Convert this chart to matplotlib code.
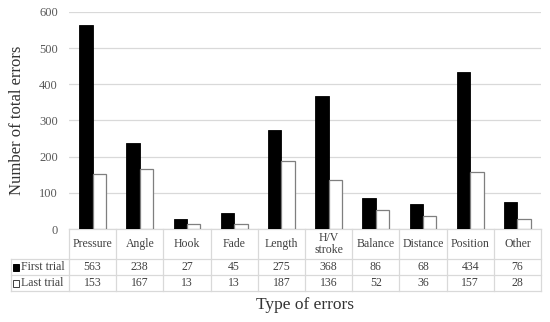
import matplotlib.pyplot as plt
from matplotlib.transforms import blended_transform_factory
from matplotlib.patches import Rectangle
import numpy as np

categories = ['Pressure', 'Angle', 'Hook', 'Fade', 'Length', 'H/V\nstroke',
              'Balance', 'Distance', 'Position', 'Other']
first_trial = [563, 238, 27, 45, 275, 368, 86, 68, 434, 76]
last_trial = [153, 167, 13, 13, 187, 136, 52, 36, 157, 28]
series_names = ['First trial', 'Last trial']

W, H = 550, 322
grid_col = '#d9d9d9'
txt_col = '#404040'
fs = 8.5
plt.rcParams['font.family'] = ['Liberation Serif', 'DejaVu Serif']

fig = plt.figure(figsize=(W / 100, H / 100), dpi=100)
ax = fig.add_axes([69 / W, 1 - 229 / H, (541 - 69) / W, (229 - 12) / H])

x = np.arange(len(categories))
bw = 0.285
ax.bar(x - bw / 2, first_trial, bw, color='black', edgecolor='black', linewidth=0.6, zorder=3)
ax.bar(x + bw / 2, last_trial, bw, color='white', edgecolor='#7f7f7f', linewidth=0.9, zorder=3)

ax.set_xlim(-0.5, len(categories) - 0.5)
ax.set_ylim(0, 600)
ax.set_yticks(range(0, 601, 100))
ax.set_xticks([])
ax.tick_params(axis='y', length=0, labelsize=9, pad=8, labelcolor='#595959')
ax.grid(axis='y', color=grid_col, linewidth=0.9, zorder=0)
for s in ax.spines.values():
    s.set_visible(False)
ax.set_ylabel('Number of total errors', fontsize=12, labelpad=10, color='#333333')

# data table below the plot
tr = blended_transform_factory(ax.transData, fig.transFigure)
fy = lambda py: 1 - py / H
rows_px = [229, 259, 275, 291]
for i in range(len(categories) + 1):
    ax.plot([i - 0.5, i - 0.5], [fy(229), fy(291)], transform=tr, color=grid_col,
            lw=0.9, clip_on=False)
left = ax.transData.inverted().transform((11, 0))[0]
right = len(categories) - 0.5
ax.plot([-0.5, right], [fy(229)] * 2, transform=tr, color=grid_col, lw=0.9, clip_on=False)
for py in rows_px[1:]:
    ax.plot([left, right], [fy(py)] * 2, transform=tr, color=grid_col, lw=0.9, clip_on=False)
ax.plot([left, left], [fy(259), fy(291)], transform=tr, color=grid_col, lw=0.9, clip_on=False)

for i, c in enumerate(categories):
    ax.text(i, fy(244), c, transform=tr, ha='center', va='center', fontsize=fs,
            linespacing=1.05, color=txt_col, clip_on=False)
    ax.text(i, fy(267), str(first_trial[i]), transform=tr, ha='center', va='center',
            fontsize=fs, color=txt_col, clip_on=False)
    ax.text(i, fy(283), str(last_trial[i]), transform=tr, ha='center', va='center',
            fontsize=fs, color=txt_col, clip_on=False)

for name, py, fc, ec in [(series_names[0], 267, 'black', 'black'),
                         (series_names[1], 283, 'white', '#404040')]:
    fig.patches.append(Rectangle((13 / W, 1 - (py + 3.5) / H), 6 / W, 7 / H,
                                 transform=fig.transFigure, facecolor=fc,
                                 edgecolor=ec, lw=0.7))
    fig.text(21 / W, fy(py), name, ha='left', va='center', fontsize=fs, color=txt_col)

fig.text(305 / W, fy(305), 'Type of errors', ha='center', va='center', fontsize=12.5,
         color='#333333')

fig.savefig('out.png', dpi=100)
